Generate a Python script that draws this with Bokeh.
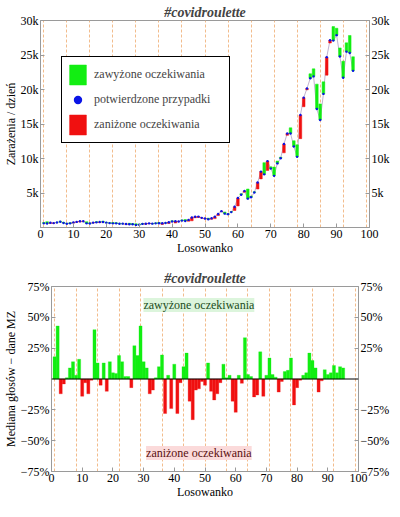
from bokeh.plotting import figure
from bokeh.models import (ColumnDataSource, LinearAxis, FixedTicker, Legend,
                          LegendItem, Span, Label, Range1d)
from bokeh.embed import file_html
from bokeh.resources import INLINE

FONT = "Liberation Serif"

# ---------------- data ----------------
days = list(range(1, 96))
cases = [600, 590, 680, 640, 730, 830, 660, 550, 600, 740,
         810, 900, 900, 600, 580, 700, 750, 800, 790, 700,
         640, 600, 600, 550, 560, 500, 480, 470, 380, 400,
         520, 550, 600, 560, 600, 610, 620, 650, 760, 870,
         900, 880, 1000, 950, 1100, 1450, 1550, 1580, 1400, 1300,
         1200, 1330, 1552, 1967, 2367, 2006, 1934, 2236, 3003, 4280,
         4739, 5300, 4178, 4394, 5068, 6526, 8099, 7705, 9622, 8536,
         7482, 9291, 10040, 12107, 13632, 13628, 11742, 10241, 16300, 18820,
         20156, 21629, 21897, 17171, 15578, 19364, 24692, 27143, 27086, 27875,
         24785, 21713, 25484, 25300, 22700]
pct = [18, 43, -12, -4, 1, 9, 14, 3, 16, -14,
       -3, -12, -1, 40, 13, -5, 13, -10, 14, 5,
       4.5, 19, 14, 2, 2, -7, 27, 19, 43, 14,
       9, -12, -9, 1, 10, 19.5, -28, 3, -24, 12,
       -28, -3, 10, 21, -18, -33, -9, -8, -2, -5,
       13, -10, -17, -12, -3, 12, 1, 3, -18, -27,
       3, -3.5, 33.5, 3.6, 2, -14.5, -13, 22, -14, 3,
       17, 3.6, 1.5, -10.6, -2, 6, 7, 17, -21, -7,
       -1, 3, 5, 21, 15, 9, -10.6, -1.5, 7.5, 3.6,
       5, 11, 5, 10, 9]
week_lines = [1, 8, 15, 22, 29, 36, 43, 50, 57, 64, 71, 78, 85, 92, 99]
x_ticks = [0, 10, 20, 30, 40, 50, 60, 70, 80, 90, 100]
top_y_ticks = [5000, 10000, 15000, 20000, 25000, 30000]
top_y_labels = ["5k", "10k", "15k", "20k", "25k", "30k"]
bot_y_ticks = [-75, -50, -25, 25, 50, 75]
bot_y_labels = ["\u221275%", "\u221250%", "\u221225%", "25%", "50%", "75%"]

GREEN = "#12ee12"
RED = "#f01010"
BLUE = "#0a14e6"
GRID = "#f2bc8c"
AXC = "#9a9a9a"

expected = [c * (1 + p / 100.0) for c, p in zip(cases, pct)]
idx_over = [i for i in range(len(days)) if pct[i] > 0]
idx_under = [i for i in range(len(days)) if pct[i] <= 0]

src_over = ColumnDataSource(dict(x=[days[i] for i in idx_over],
                                 lo=[cases[i] for i in idx_over],
                                 hi=[expected[i] for i in idx_over]))
src_under = ColumnDataSource(dict(x=[days[i] for i in idx_under],
                                  lo=[expected[i] for i in idx_under],
                                  hi=[cases[i] for i in idx_under]))
src_cases = ColumnDataSource(dict(x=days, y=cases))
src_pct = ColumnDataSource(dict(x=days, top=pct,
                                color=[GREEN if v > 0 else RED for v in pct]))


def style_axis(ax, labels=None, ticks=None):
    if ticks is not None:
        ax.ticker = FixedTicker(ticks=ticks)
    if labels is not None:
        ax.major_label_overrides = {t: l for t, l in zip(ticks, labels)}
    ax.axis_line_color = AXC
    ax.major_tick_line_color = AXC
    ax.minor_tick_line_color = None
    ax.major_tick_in = 4
    ax.major_tick_out = 0
    ax.major_label_text_font = FONT
    ax.major_label_text_font_size = "12px"
    ax.major_label_text_color = "black"
    ax.major_label_text_line_height = 0.8
    ax.major_label_standoff = 2
    ax.axis_label_text_font = FONT
    ax.axis_label_text_font_style = "normal"
    ax.axis_label_text_font_size = "12px"
    ax.axis_label_text_color = "black"
    ax.axis_label_text_line_height = 0.8
    ax.axis_label_standoff = 0


def base_fig(w, h, yr, ylabel, top_border):
    p = figure(width=w, height=h, x_range=Range1d(0, 100),
               y_range=yr, output_backend="svg", toolbar_location=None,
               title="#covidroulette", x_axis_label="Losowanko",
               y_axis_label=ylabel, min_border_left=0, min_border_right=0,
               min_border_top=top_border, min_border_bottom=0)
    p.title.align = "center"
    p.title.text_font = FONT
    p.title.text_font_style = "bold italic"
    p.title.text_font_size = "14px"
    p.title.standoff = 1
    p.outline_line_color = AXC
    p.background_fill_color = "white"
    p.border_fill_color = "white"
    p.ygrid.visible = False
    p.xgrid.ticker = FixedTicker(ticks=week_lines)
    p.xgrid.grid_line_color = GRID
    p.xgrid.grid_line_dash = "3 2"
    p.xgrid.grid_line_width = 1
    style_axis(p.xaxis[0], ticks=x_ticks)
    return p


# ---------------- top chart ----------------
p1 = base_fig(392, 257, Range1d(0, 30000), "Zara\u017cenia / dzie\u0144", 20)
style_axis(p1.yaxis[0], top_y_labels, top_y_ticks)
ax_r = LinearAxis(axis_label=None)
style_axis(ax_r, top_y_labels, top_y_ticks)
p1.add_layout(ax_r, "right")

p1.line("x", "y", source=src_cases, line_color="#b9a9c9", line_width=0.9)
r_over = p1.vbar(x="x", bottom="lo", top="hi", width=0.8, source=src_over,
                 fill_color=GREEN, line_color=GREEN, line_width=0.5)
r_under = p1.vbar(x="x", bottom="lo", top="hi", width=0.8, source=src_under,
                  fill_color=RED, line_color=RED, line_width=0.5)
r_dots = p1.scatter("x", "y", source=src_cases, size=2.4, fill_color=BLUE,
                    line_color=None)

legend = Legend(items=[
    LegendItem(label="zawy\u017cone oczekiwania", renderers=[r_over]),
    LegendItem(label="potwierdzone przypadki", renderers=[r_dots]),
    LegendItem(label="zani\u017cone oczekiwania", renderers=[r_under]),
], location=(21, 84))
legend.border_line_color = "black"
legend.border_line_width = 1
legend.border_line_alpha = 1
legend.background_fill_color = "white"
legend.background_fill_alpha = 1
legend.label_text_font = FONT
legend.label_text_font_size = "12px"
legend.glyph_width = 21
legend.glyph_height = 25
legend.label_height = 25
legend.spacing = 0
legend.padding = 5
legend.margin = 0
legend.label_standoff = 6
legend.label_width = 130
p1.add_layout(legend)

# ---------------- bottom chart ----------------
p2 = base_fig(392, 244, Range1d(-75, 75), "Mediana g\u0142os\u00f3w \u2212 dane MZ", 29)
style_axis(p2.yaxis[0], bot_y_labels, bot_y_ticks)
ax_r2 = LinearAxis(axis_label=None)
style_axis(ax_r2, bot_y_labels, bot_y_ticks)
p2.add_layout(ax_r2, "right")

p2.vbar(x="x", top="top", bottom=0, width=1.0, source=src_pct,
        fill_color="color", line_color="color", line_width=0.3)
p2.add_layout(Span(location=0, dimension="width", line_color="black",
                   line_width=1))

lab_over = Label(x=48, y=60, text="zawy\u017cone oczekiwania",
                 text_align="center", text_baseline="middle",
                 text_font=FONT, text_font_size="12px", text_color="#1b4d1b",
                 background_fill_color="#dcf5dc", background_fill_alpha=1)
lab_under = Label(x=48, y=-60, text="zani\u017cone oczekiwania",
                  text_align="center", text_baseline="middle",
                  text_font=FONT, text_font_size="12px", text_color="#5a1010",
                  background_fill_color="#fbdada", background_fill_alpha=1)
p2.add_layout(lab_over)
p2.add_layout(lab_under)

open("out.html", "w").write(file_html([p1, p2], INLINE))
